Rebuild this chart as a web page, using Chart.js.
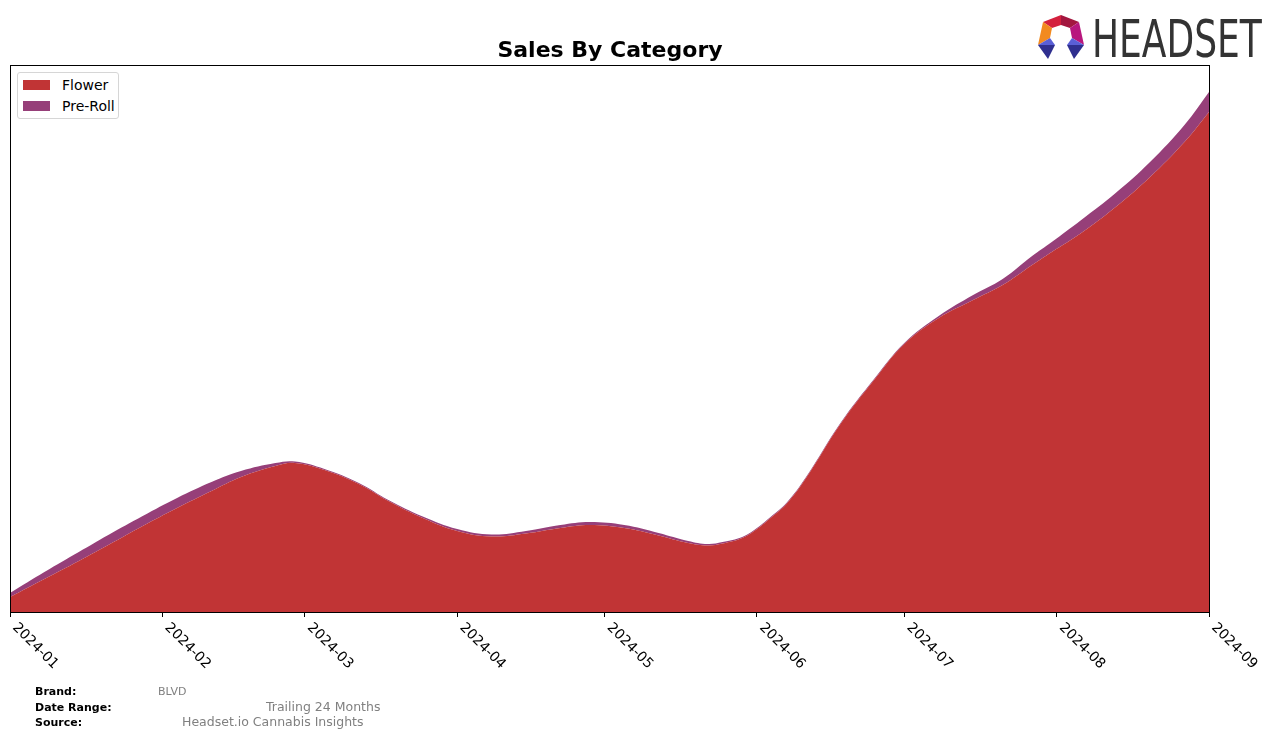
<!DOCTYPE html>
<html>
<head>
<meta charset="utf-8">
<script src="https://cdn.jsdelivr.net/npm/chart.js@4.4.1/dist/chart.umd.min.js"></script>
<style>
    body { margin: 0; background: #fff; font-family: "DejaVu Sans", sans-serif; }
    #wrap { position: relative; width: 1276px; height: 739px; overflow: hidden; }
    #chart { position: absolute; left: 0; top: 0; }
    .title { position: absolute; top: 37px; left: 0; width: 1220px; text-align: center; font-weight: bold; font-size: 22px; color: #000; }
    .legend { position: absolute; left: 17px; top: 72px; width: 100px; height: 45px; border: 1px solid #d6d6d6; border-radius: 3px; background: #fff; font-size: 14px; }
    .legend .item { position: absolute; left: 5px; height: 16px; line-height: 16px; }
    .legend .sw { position: absolute; left: 0; top: 3px; width: 27px; height: 10px; }
    .legend .lbl { position: absolute; left: 39px; top: 0; white-space: nowrap; }
    .logo-text { position: absolute; left: 1092px; top: 10px; font-family: "Liberation Sans Narrow", "DejaVu Sans Condensed", sans-serif; font-size: 51px; color: #333; transform: scaleX(0.785); transform-origin: left top; }
    .foot { position: absolute; font-size: 11px; white-space: nowrap; }
    .foot.b { font-weight: bold; color: #000; }
    .foot.v { color: #808080; font-size: 12.5px; }
</style>
</head>
<body>
<div id="wrap">
    <canvas id="chart" width="1276" height="739"></canvas>
    <div class="title">Sales By Category</div>
    <div class="legend">
        <div class="item" style="top:4px"><span class="sw" style="background:#c13435"></span><span class="lbl">Flower</span></div>
        <div class="item" style="top:25px"><span class="sw" style="background:#963f79"></span><span class="lbl">Pre-Roll</span></div>
    </div>
    <svg style="position:absolute;left:1036px;top:13px" width="52" height="50" viewBox="1036 13 52 50">
        <polygon points="1043,22 1061,15 1061,25 1052,28" fill="#d4213d"/>
        <polygon points="1061,15 1079,22 1070,28 1061,25" fill="#a3173f"/>
        <polygon points="1043,22 1052,28 1050,38 1038,45" fill="#f28a1f"/>
        <polygon points="1079,22 1084,45 1072,38 1070,28" fill="#b8177e"/>
        <polygon points="1038,45 1050,38 1055,45" fill="#5a5fd6"/>
        <polygon points="1038,45 1055,45 1048,59" fill="#2f2f8f"/>
        <polygon points="1084,45 1072,38 1067,45" fill="#5a5fd6"/>
        <polygon points="1084,45 1067,45 1074,59" fill="#2f2f8f"/>
    </svg>
    <div class="logo-text">HEADSET</div>
    <div class="foot b" style="left:35px;top:685px">Brand:</div>
    <div class="foot v" style="left:158px;top:685px;font-size:11px">BLVD</div>
    <div class="foot b" style="left:35px;top:701px">Date Range:</div>
    <div class="foot v" style="left:266px;top:699px">Trailing 24 Months</div>
    <div class="foot b" style="left:35px;top:716px">Source:</div>
    <div class="foot v" style="left:182px;top:714px">Headset.io Cannabis Insights</div>
</div>
<script>
// month ticks (day offset from 2024-01-01)
const monthLabels = ['2024-01', '2024-02', '2024-03', '2024-04', '2024-05', '2024-06', '2024-07', '2024-08', '2024-09'];
const monthDays = [0, 31, 60, 91, 121, 152, 182, 213, 244];

// sample days
const sampleDays = [0, 7, 14, 20, 27, 34, 41, 47, 54, 58, 64, 71, 77, 84, 91, 98, 105, 112, 118, 125, 132, 138, 142, 145, 149, 152, 155, 158, 162, 169, 176, 182, 189, 196, 202, 208, 212, 218, 225, 232, 239, 244];
const flowerSales = [15, 33, 51, 67, 86, 104, 121, 135, 146, 149, 142, 128, 111, 94, 81, 75.5, 78.5, 84, 87, 84, 76.5, 69, 66.5, 68.5, 74, 83, 95, 108, 134, 188, 233, 268, 294, 312, 327, 347, 360, 379, 405, 435, 470, 500];
const prerollSales = [4, 7, 9, 10, 10, 10, 9, 6, 3, 1.5, 1, 1, 1, 1.5, 2, 2, 2.5, 3, 3, 3, 2.5, 2, 1.5, 1.5, 1, 1, 1, 1, 1, 1, 1, 1, 2, 5, 6, 9, 10, 13, 14, 15, 17, 20];

const toPoints = (vals) => vals.map((v, i) => ({ x: sampleDays[i], y: v }));

// frame round the plot + rotated month labels
const framePlugin = {
    id: 'frame',
    afterDraw(chart) {
        const { ctx, chartArea } = chart;
        const xs = chart.scales.x;
        ctx.save();
        ctx.strokeStyle = '#000';
        ctx.lineWidth = 1;
        ctx.strokeRect(chartArea.left + 0.5, chartArea.top + 0.5, chartArea.right - chartArea.left, chartArea.bottom - chartArea.top);
        ctx.font = '14px "DejaVu Sans"';
        ctx.fillStyle = '#000';
        ctx.textAlign = 'left';
        ctx.textBaseline = 'alphabetic';
        monthDays.forEach((d, i) => {
            const px = xs.getPixelForValue(d);
            ctx.save();
            ctx.translate(px + 2, chartArea.bottom + 16);
            ctx.rotate(Math.PI / 4);
            ctx.fillText(monthLabels[i], 0, 0);
            ctx.restore();
        });
        ctx.restore();
    }
};

new Chart(document.getElementById('chart'), {
    type: 'line',
    data: {
        datasets: [
            {
                label: 'Flower',
                data: toPoints(flowerSales),
                backgroundColor: '#c13435',
                borderColor: '#c13435',
                borderWidth: 0,
                fill: 'origin',
            },
            {
                label: 'Pre-Roll',
                data: toPoints(prerollSales),
                backgroundColor: '#963f79',
                borderColor: '#963f79',
                borderWidth: 0,
                fill: '-1',
            },
        ],
    },
    options: {
        responsive: false,
        animation: false,
        devicePixelRatio: 1,
        elements: {
            point: { radius: 0 },
            line: { tension: 0.4 },
        },
        layout: { padding: { left: 10, right: 67, top: 65, bottom: 0 } },
        plugins: {
            legend: { display: false },
            title: { display: false },
            tooltip: { enabled: false },
        },
        scales: {
            x: {
                type: 'linear',
                min: 0,
                max: 244,
                afterBuildTicks: (scale) => { scale.ticks = monthDays.map(v => ({ value: v })); },
                afterFit: (scale) => { scale.height = 127; },
                ticks: { display: false },
                grid: { drawOnChartArea: false, drawTicks: true, tickLength: 5, color: '#000' },
                border: { display: true, color: '#000' },
            },
            y: {
                display: false,
                stacked: true,
                min: 0,
                max: 547,
            },
        },
    },
    plugins: [framePlugin],
});
</script>
</body>
</html>
